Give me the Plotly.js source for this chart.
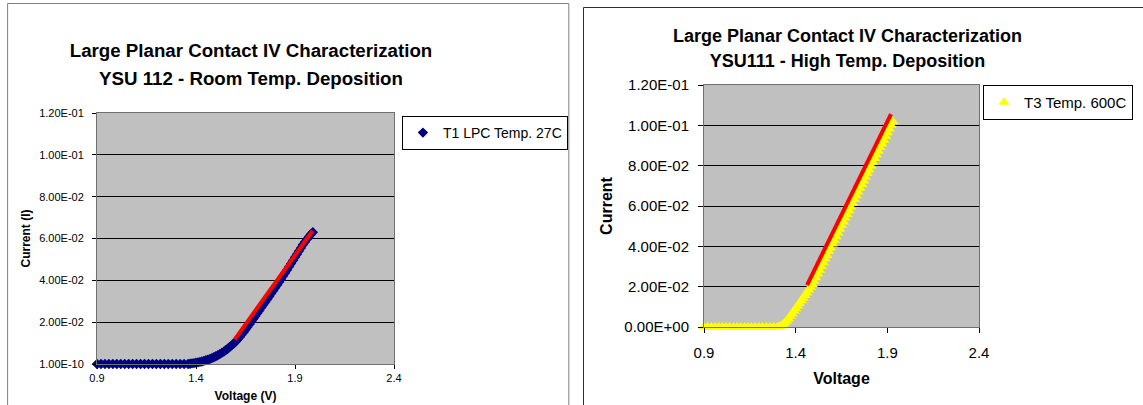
<!DOCTYPE html>
<html>
<head>
<meta charset="utf-8">
<script src="https://cdn.plot.ly/plotly-3.0.1.min.js"></script>
<style>
  html, body { margin: 0; padding: 0; background: #fff; }
  #wrap { position: relative; width: 1143px; height: 405px; overflow: hidden; }
  #chartA { position: absolute; left: 0; top: 0; width: 580px; height: 405px; }
  #chartB { position: absolute; left: 580px; top: 0; width: 620px; height: 405px; }
</style>
</head>
<body>
<div id="wrap">
  <div id="chartA"></div>
  <div id="chartB"></div>
</div>
<script>
// ---------- Data: chart A (YSU 112, room temperature deposition) ----------
const voltageA = [
  0.90,0.92,0.94,0.96,0.98,1.00,1.02,1.04,1.06,1.08,1.10,1.12,1.14,1.16,1.18,1.20,
  1.22,1.24,1.26,1.28,1.30,1.32,1.34,1.36,
  1.37,1.38,1.39,1.40,1.41,1.42,1.43,1.44,1.45,1.46,1.47,1.48,1.49,1.50,1.51,1.52,
  1.53,1.54,1.55,1.56,1.57,1.58,1.59,1.60,1.61,1.62,1.63,1.64,1.65,1.66,1.67,1.68,
  1.69,1.70,1.71,1.72,1.73,1.74,1.75,1.76,1.77,1.78,1.79,1.80,1.81,1.82,1.83,1.84,
  1.85,1.86,1.87,1.88,1.89,1.90,1.91,1.92,1.93,1.94,1.95,1.96,1.97,1.98,1.99
];
const currentA = [
  1e-10,1e-10,1e-10,1e-10,1e-10,1e-10,1e-10,1e-10,1e-10,1e-10,1e-10,1e-10,1e-10,1e-10,1e-10,1e-10,
  1e-10,1e-10,1e-10,1e-10,1e-10,1e-10,1e-10,1e-10,
  0.0001,0.0003,0.0004,0.0006,0.0008,0.0010,0.0012,0.0015,0.0018,0.0021,0.0024,0.0028,0.0032,0.0037,0.0042,0.0047,
  0.0053,0.0059,0.0066,0.0073,0.0081,0.0089,0.0097,0.0106,0.0117,0.0128,0.0140,0.0152,0.0164,0.0177,0.0190,0.0203,
  0.0216,0.0229,0.0243,0.0256,0.0270,0.0283,0.0296,0.0309,0.0323,0.0337,0.0350,0.0364,0.0378,0.0392,0.0406,0.0421,
  0.0435,0.0450,0.0465,0.0480,0.0495,0.0510,0.0525,0.0540,0.0555,0.0570,0.0583,0.0596,0.0608,0.0620,0.0630
];
const fitVoltageA = [1.596, 1.989];
const fitCurrentA = [0.0118, 0.0637];

// ---------- Data: chart B (YSU111, high temperature deposition) ----------
const voltageB = [
  0.90,0.92,0.94,0.96,0.98,1.00,1.02,1.04,1.06,1.08,1.10,1.12,1.14,1.16,1.18,1.20,
  1.22,1.24,1.26,1.28,1.30,
  1.31,1.32,1.33,1.34,1.35,1.36,1.37,1.38,1.39,1.40,1.41,1.42,1.43,1.44,1.45,1.46,
  1.47,1.48,1.49,1.50,1.51,1.52,1.53,1.54,1.55,1.56,1.57,1.58,1.59,1.60,1.61,1.62,
  1.63,1.64,1.65,1.66,1.67,1.68,1.69,1.70,1.71,1.72,1.73,1.74,1.75,1.76,1.77,1.78,
  1.79,1.80,1.81,1.82,1.83,1.84,1.85,1.86,1.87,1.88,1.89,1.90,1.91,1.92,1.93
];
const currentB = [
  0,0,0,0,0,0,0,0,0,0,0,0,0,0,0,0,
  0,0,0,0,0,
  0.0002,0.0006,0.0012,0.0020,0.0030,0.0041,0.0053,0.0065,0.0078,0.0091,0.0104,0.0117,0.0130,0.0143,0.0156,0.0169,
  0.0183,0.0197,0.0211,0.0226,0.0244,0.0263,0.0281,0.0300,0.0318,0.0337,0.0355,0.0374,0.0392,0.0411,0.0429,0.0448,
  0.0466,0.0485,0.0503,0.0521,0.0540,0.0558,0.0577,0.0595,0.0614,0.0632,0.0651,0.0669,0.0688,0.0706,0.0724,0.0742,
  0.0761,0.0779,0.0798,0.0816,0.0835,0.0853,0.0872,0.0890,0.0908,0.0926,0.0945,0.0963,0.0982,0.1000,0.1019
];
const fitVoltageB = [1.462, 1.92];
const fitCurrentB = [0.0208, 0.1056];

// ---------- Axis ticks ----------
const xTickVals = [0.9, 1.4, 1.9, 2.4];
const xTickText = ['0.9', '1.4', '1.9', '2.4'];
const yTickVals = [0, 0.02, 0.04, 0.06, 0.08, 0.10, 0.12];
const yTickTextA = ['1.00E-10', '2.00E-02', '4.00E-02', '6.00E-02', '8.00E-02', '1.00E-01', '1.20E-01'];
const yTickTextB = ['0.00E+00', '2.00E-02', '4.00E-02', '6.00E-02', '8.00E-02', '1.00E-01', '1.20E-01'];

const FONT = 'Liberation Sans, Arial, Helvetica, sans-serif';
const config = { staticPlot: true, displayModeBar: false };

// ---------- Chart A ----------
const tracesA = [
  {
    type: 'scatter', mode: 'markers', name: 'T1 LPC Temp. 27C',
    x: voltageA, y: currentA, cliponaxis: false,
    marker: { symbol: 'diamond', size: 8, color: '#000080', line: { width: 0 } }
  },
  {
    type: 'scatter', mode: 'lines', showlegend: false, name: 'fit',
    x: fitVoltageA, y: fitCurrentA, cliponaxis: false,
    line: { color: '#FF0000', width: 4 }
  }
];
const layoutA = {
  width: 580, height: 405,
  margin: { l: 97, r: 184, t: 113, b: 41, pad: 0 },
  paper_bgcolor: 'rgba(0,0,0,0)', plot_bgcolor: '#C0C0C0',
  font: { family: FONT, color: '#000' },
  title: {
    text: '<span style="font-size:18.7px">Large Planar Contact IV Characterization</span><br>' +
          '<span style="font-size:18.7px">YSU 112 - Room Temp. Deposition</span>',
    font: { family: FONT, size: 21.5, weight: 'bold', color: '#000' },
    x: 251 / 580, xref: 'container', xanchor: 'center',
    y: 1 - 57 / 405, yref: 'container', yanchor: 'top'
  },
  xaxis: {
    range: [0.9, 2.4], tickmode: 'array', tickvals: xTickVals, ticktext: xTickText,
    showgrid: false, zeroline: false, showline: true, linecolor: '#707070', linewidth: 1, mirror: true,
    ticks: 'outside', ticklen: 4, tickcolor: '#000', tickwidth: 1,
    tickfont: { family: FONT, size: 11, color: '#000' }, ticklabelstandoff: 0,
    title: { text: 'Voltage (V)', font: { family: FONT, size: 12, weight: 'bold', color: '#000' }, standoff: 8 }
  },
  yaxis: {
    range: [0, 0.12], tickmode: 'array', tickvals: yTickVals, ticktext: yTickTextA,
    showgrid: true, gridcolor: '#000', gridwidth: 1, zeroline: false,
    showline: true, linecolor: '#707070', linewidth: 1, mirror: true,
    ticks: 'outside', ticklen: 4, tickcolor: '#000', tickwidth: 1,
    tickfont: { family: FONT, size: 11, color: '#000' }, ticklabelstandoff: 6,
    title: { text: 'Current (I)', font: { family: FONT, size: 12, weight: 'bold', color: '#000' }, standoff: 5 }
  },
  showlegend: true,
  legend: {
    x: (404 - 97) / 299, y: (364 - 116) / 251, xanchor: 'left', yanchor: 'top',
    bgcolor: '#FFFFFF', bordercolor: '#000', borderwidth: 1,
    font: { family: FONT, size: 14, color: '#000' }
  },
  shapes: [
    { type: 'rect', xref: 'paper', yref: 'paper',
      x0: (7 - 97) / 299, x1: (572 - 97) / 299, y0: (364 - 420) / 251, y1: (364 - 3.5) / 251,
      line: { color: '#7F7F7F', width: 1 }, fillcolor: 'rgba(0,0,0,0)', layer: 'below' }
  ]
};

// ---------- Chart B ----------
const tracesB = [
  {
    type: 'scatter', mode: 'markers', name: 'T3 Temp. 600C',
    x: voltageB, y: currentB, cliponaxis: false,
    marker: { symbol: 'triangle-up', size: 10, color: '#FFFF00', line: { width: 0 } }
  },
  {
    type: 'scatter', mode: 'lines', showlegend: false, name: 'fit',
    x: fitVoltageB, y: fitCurrentB, cliponaxis: false,
    line: { color: '#FF0000', width: 4 }
  }
];
const layoutB = {
  width: 620, height: 405,
  margin: { l: 124, r: 221, t: 85, b: 78, pad: 0 },
  paper_bgcolor: 'rgba(0,0,0,0)', plot_bgcolor: '#C0C0C0',
  font: { family: FONT, color: '#000' },
  title: {
    text: '<span style="font-size:18px">Large Planar Contact IV Characterization</span><br>' +
          '<span style="font-size:18px">YSU111 - High Temp. Deposition</span>',
    font: { family: FONT, size: 19.3, weight: 'bold', color: '#000' },
    x: 267.5 / 620, xref: 'container', xanchor: 'center',
    y: 1 - 42 / 405, yref: 'container', yanchor: 'top'
  },
  xaxis: {
    range: [0.9, 2.4], tickmode: 'array', tickvals: xTickVals, ticktext: xTickText,
    showgrid: false, zeroline: false, showline: true, linecolor: '#707070', linewidth: 1, mirror: true,
    ticks: 'outside', ticklen: 5, tickcolor: '#000', tickwidth: 1,
    tickfont: { family: FONT, size: 15, color: '#000' }, ticklabelstandoff: 7,
    title: { text: 'Voltage', font: { family: FONT, size: 16, weight: 'bold', color: '#000' }, standoff: 12 }
  },
  yaxis: {
    range: [0, 0.12], tickmode: 'array', tickvals: yTickVals, ticktext: yTickTextB,
    showgrid: true, gridcolor: '#000', gridwidth: 1, zeroline: false,
    showline: true, linecolor: '#707070', linewidth: 1, mirror: true,
    ticks: 'outside', ticklen: 5, tickcolor: '#000', tickwidth: 1,
    tickfont: { family: FONT, size: 15, color: '#000' }, ticklabelstandoff: 6,
    title: { text: 'Current', font: { family: FONT, size: 16, weight: 'bold', color: '#000' }, standoff: 7 }
  },
  showlegend: true,
  legend: {
    x: (983 - 704) / 275, y: (327 - 85) / 242, xanchor: 'left', yanchor: 'top',
    bgcolor: '#FFFFFF', bordercolor: '#000', borderwidth: 1,
    font: { family: FONT, size: 15, color: '#000' }
  },
  shapes: [
    { type: 'rect', xref: 'paper', yref: 'paper',
      x0: (583.5 - 704) / 275, x1: (1250 - 704) / 275, y0: (327 - 420) / 242, y1: (327 - 7.5) / 242,
      line: { color: '#303030', width: 1 }, fillcolor: 'rgba(0,0,0,0)', layer: 'below' }
  ]
};

Plotly.newPlot('chartA', tracesA, layoutA, config);
Plotly.newPlot('chartB', tracesB, layoutB, config);
</script>
</body>
</html>
